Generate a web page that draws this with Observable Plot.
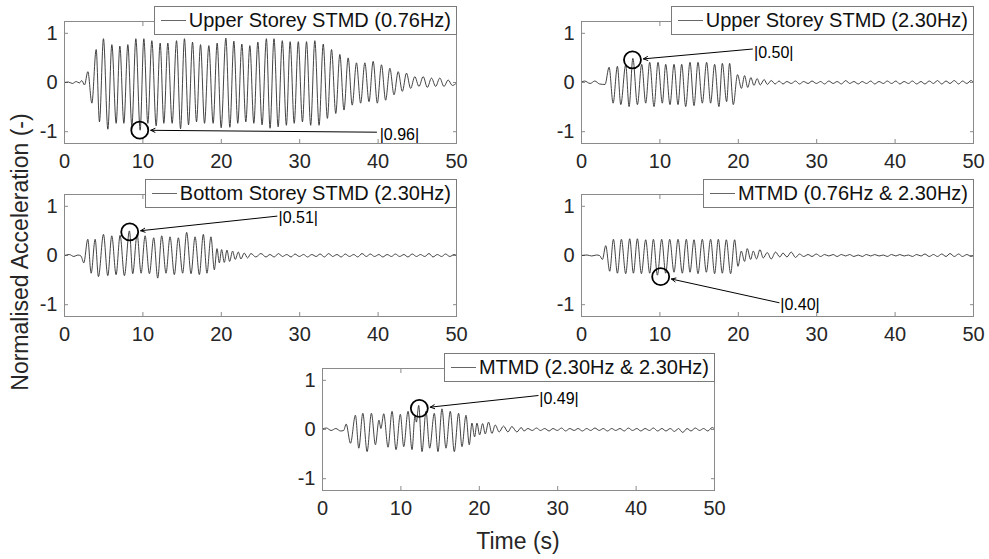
<!DOCTYPE html>
<html><head><meta charset="utf-8">
<script src="https://cdn.jsdelivr.net/npm/d3@7"></script>
<script src="https://cdn.jsdelivr.net/npm/@observablehq/plot@0.6"></script>
<style>
body{margin:0;background:#fff;overflow:hidden}
#chart{position:relative;width:989px;height:559px;font-family:"Liberation Sans",Arial,sans-serif;color:#262626;overflow:hidden;background:#fff}
.panel{position:absolute}
.legend{position:absolute;box-sizing:border-box;border:1px solid #7a7a7a;background:#fff;height:29px;display:flex;align-items:center;font-size:20px;white-space:nowrap;padding-right:5px;color:#111}
.legend .sw{display:inline-block;width:25px;height:0;border-top:1px solid #666;margin:0 3px 0 6px}
.lab{position:absolute;white-space:nowrap;font-size:23px;color:#262626}
</style></head><body><div id="chart"></div>
<script>
// ---- data ----
const xTicks = [0, 10, 20, 30, 40, 50];
const yTicks = [-1, 0, 1];
const titles = ["Upper Storey STMD (0.76Hz)", "Upper Storey STMD (2.30Hz)", "Bottom Storey STMD (2.30Hz)", "MTMD (0.76Hz & 2.30Hz)", "MTMD (2.30Hz & 2.30Hz)"];

// Panel 1: Upper Storey STMD (0.76Hz) — extrema
const t1 = [0,0.5,1.0,1.5,1.9,2.2,2.55,2.98,3.49,4.04,4.46,4.97,5.53,6.04,6.59,7.06,7.57,8.08,8.59,9.10,9.65,10.12,10.63,11.14,11.69,12.2,12.67,13.18,13.73,14.29,14.8,15.3,15.82,16.33,16.84,17.35,17.86,18.41,18.96,19.47,19.98,20.58,21.09,21.6,22.1,22.62,23.13,23.64,24.15,24.66,25.2,25.75,26.22,26.72,27.25,27.78,28.3,28.78,29.3,29.82,30.35,30.87,31.4,31.93,32.47,33.0,33.53,34.06,34.6,35.12,35.65,36.18,36.7,37.24,37.77,38.31,38.84,39.37,39.9,40.43,40.96,41.5,42.03,42.56,43.09,43.62,44.15,44.68,45.21,45.75,46.28,46.81,47.34,47.87,48.4,48.94,49.47,50];
const v1 = [0,0.01,-0.02,0.02,-0.01,0.04,-0.05,0.22,-0.42,0.67,-0.80,0.89,-0.95,0.77,-0.83,0.74,-0.83,0.77,-0.88,0.89,-0.97,0.89,-0.83,0.85,-0.88,0.80,-0.83,0.80,-0.83,0.85,-0.94,0.89,-0.86,0.82,-0.80,0.77,-0.83,0.75,-0.83,0.80,-0.92,0.90,-0.91,0.84,-0.83,0.78,-0.80,0.75,-0.83,0.82,-0.86,0.89,-0.93,0.89,-0.90,0.85,-0.87,0.83,-0.83,0.83,-0.80,0.83,-0.87,0.85,-0.87,0.78,-0.73,0.67,-0.63,0.57,-0.56,0.50,-0.46,0.40,-0.42,0.40,-0.39,0.43,-0.42,0.36,-0.36,0.29,-0.25,0.22,-0.18,0.19,-0.12,0.12,-0.08,0.12,-0.10,0.09,-0.08,0.09,-0.08,0.05,-0.06,-0.01];

// Shared tail times (residual wiggles after 25 s) for panels 2-5
const tailT = [25.7,26.2,26.75,27.3,27.8,28.35,28.9,29.4,29.95,30.5,31.0,31.55,32.1,32.6,33.15,33.7,34.2,34.75,35.3,35.8,36.35,36.9,37.4,37.95,38.5,39.0,39.55,40.1,40.6,41.15,41.7,42.2,42.75,43.3,43.8,44.35,44.9,45.4,45.95,46.5,47.0,47.55,48.1,48.6,49.15,49.7,50];

// Panel 2: Upper Storey STMD (2.30Hz)
const t2 = [0,0.4,1.1,1.7,2.3,3.0,3.52,4.03,4.58,5.01,5.64,6.07,6.55,7.13,7.68,8.19,8.70,9.25,9.76,10.31,10.74,11.29,11.80,12.31,12.78,13.29,13.84,14.35,14.86,15.41,15.96,16.47,16.98,17.53,17.96,18.51,18.89,19.36,19.9,20.4,20.8,21.2,21.6,22.0,22.4,22.8,23.3,23.7,24.2,24.7,25.2];
const v2 = [0.01,0.03,-0.02,0.03,-0.03,-0.04,0.31,-0.42,0.33,-0.45,0.36,-0.49,0.49,-0.45,0.37,-0.42,0.41,-0.49,0.41,-0.42,0.37,-0.45,0.37,-0.45,0.37,-0.49,0.41,-0.47,0.41,-0.42,0.41,-0.42,0.37,-0.49,0.39,-0.39,0.39,-0.45,0.16,-0.12,0.14,-0.10,0.10,-0.06,0.08,-0.05,0.06,-0.04,0.04,-0.03,0.03];
const tail2 = [-0.03,0.02,-0.02,0.03,-0.03,0.02,-0.02,0.03,-0.02,0.02,-0.03,0.03,-0.02,0.02,-0.03,0.04,-0.02,0.02,-0.03,0.02,-0.02,0.03,-0.03,0.02,-0.02,0.03,-0.02,0.03,-0.03,0.02,-0.02,0.03,-0.03,0.02,-0.03,0.03,-0.02,0.04,-0.03,0.03,-0.02,0.04,-0.03,0.03,-0.02,0.04,0.0];

// Panel 3: Bottom Storey STMD (2.30Hz)
const t3 = [0,0.6,1.2,1.7,2.1,2.46,2.97,3.40,3.91,4.33,4.97,5.52,6.03,6.58,7.09,7.64,8.28,8.70,9.26,9.77,10.28,10.83,11.38,11.89,12.40,12.95,13.46,14.01,14.52,15.07,15.58,16.14,16.65,17.20,17.71,18.17,18.68,19.11,19.45,19.75,20.04,20.38,20.72,21.06,21.44,21.78,22.17,22.5,22.93,23.35,23.78,24.4,25.05];
const v3 = [0,0.02,-0.02,0.01,-0.01,-0.15,0.33,-0.36,0.33,-0.43,0.43,-0.41,0.40,-0.39,0.41,-0.41,0.50,-0.37,0.43,-0.36,0.40,-0.37,0.36,-0.46,0.40,-0.36,0.38,-0.39,0.36,-0.36,0.47,-0.37,0.38,-0.39,0.43,-0.36,0.38,-0.29,0.14,-0.15,0.12,-0.14,0.11,-0.12,0.09,-0.08,0.07,-0.07,0.05,-0.05,0.04,-0.03,0.04];
const tail3 = [-0.03,0.02,-0.03,0.04,-0.02,0.02,-0.03,0.03,-0.02,0.02,-0.03,0.02,-0.02,0.03,-0.03,0.04,-0.02,0.02,-0.03,0.03,-0.02,0.02,-0.03,0.04,-0.02,0.03,-0.02,0.02,-0.03,0.02,-0.02,0.03,-0.02,0.02,-0.03,0.03,-0.02,0.02,-0.02,0.04,-0.03,0.02,-0.02,0.03,-0.02,0.02,0.0];

// Panel 4: MTMD (0.76Hz & 2.30Hz)
const t4 = [0,0.7,1.3,1.9,2.3,2.67,3.09,3.60,4.07,4.58,5.09,5.64,6.15,6.62,7.13,7.64,8.19,8.70,9.17,9.68,10.23,10.74,11.25,11.80,12.31,12.86,13.37,13.84,14.35,14.86,15.41,15.92,16.47,16.98,17.45,17.96,18.47,19.02,19.53,19.96,20.38,20.8,21.14,21.57,21.91,22.33,22.76,23.18,23.69,24.2,24.75,25.3];
const v4 = [0,0.01,-0.01,0.01,0,-0.08,0.20,-0.32,0.33,-0.36,0.33,-0.37,0.34,-0.36,0.34,-0.37,0.32,-0.36,0.33,-0.40,0.33,-0.36,0.33,-0.34,0.33,-0.36,0.33,-0.34,0.32,-0.37,0.33,-0.34,0.33,-0.37,0.33,-0.36,0.32,-0.37,0.32,-0.22,0.09,-0.12,0.14,-0.08,0.09,-0.07,0.12,-0.05,0.06,-0.07,0.07,-0.03];
const tail4 = [0.05,-0.03,0.07,-0.04,0.03,-0.02,0.02,-0.02,0.03,-0.02,0.02,-0.01,0.02,-0.02,0.02,-0.01,0.02,-0.02,0.01,-0.02,0.02,-0.01,0.02,-0.01,0.01,-0.02,0.02,-0.01,0.02,-0.01,0.01,-0.02,0.02,-0.01,0.03,-0.02,0.02,-0.02,0.03,-0.02,0.04,-0.02,0.03,-0.02,0.02,-0.02,0.0];

// Panel 5: MTMD (2.30Hz & 2.30Hz)
const t5 = [0,0.5,1.1,1.7,2.3,2.7,3.02,3.57,4.2,4.63,5.14,5.69,6.24,6.75,7.2,7.45,7.81,8.36,8.87,9.38,9.93,10.36,10.91,11.42,11.8,11.98,12.27,12.69,13.2,13.67,14.26,14.73,15.24,15.75,16.3,16.81,17.36,17.79,18.3,18.72,19.06,19.4,19.7,20.04,20.42,20.76,21.18,21.61,22.03,22.54,23.09,23.65,24.15,24.79,25.35];
const v5 = [0.01,0.03,-0.02,0.02,-0.03,-0.02,0.11,-0.28,0.29,-0.38,0.33,-0.45,0.33,-0.31,0.19,0.02,0.32,-0.36,0.37,-0.41,0.31,-0.35,0.37,-0.41,0.29,0.15,0.49,-0.45,0.37,-0.38,0.33,-0.45,0.42,-0.38,0.37,-0.45,0.33,-0.35,0.29,-0.31,0.13,-0.15,0.13,-0.11,0.12,-0.09,0.15,-0.08,0.09,-0.05,0.07,-0.05,0.06,-0.05,0.04];
const tail5 = [-0.03,0.02,-0.02,0.03,-0.02,0.02,-0.03,0.02,-0.02,0.03,-0.03,0.02,-0.02,0.02,-0.03,0.02,-0.02,0.03,-0.02,0.02,-0.03,0.02,-0.02,0.02,-0.03,0.03,-0.02,0.02,-0.03,0.02,-0.02,0.03,-0.03,0.02,-0.03,0.02,-0.04,0.02,-0.06,0.02,-0.03,0.03,-0.02,0.02,-0.03,0.04,0.01];

// Annotations: circled peak (time, value), arrow tail and label position, label text
const annPeakT = [9.6, 6.5, 8.32, 10.1, 12.35];
const annPeakV = [-0.97, 0.46, 0.48, -0.43, 0.43];
const annTailT = [39.8, 21.8, 27.1, 25.2, 27.5];
const annTailV = [-1.01, 0.68, 0.80, -0.96, 0.69];
const annTextT = [40.2, 22.0, 27.3, 25.35, 27.65];
const annTextV = [-1.06, 0.60, 0.755, -1.01, 0.63];
const annLabels = ["|0.96|", "|0.50|", "|0.51|", "|0.40|", "|0.49|"];

// ---- layout ----
const FW = 392, FH = 122, ML = 50, MR = 12, MT = 10, MB = 34;
const frames = [[64, 21], [581, 21], [64, 194], [581, 194], [322, 368]];
const series = [
  [t1, v1],
  [t2.concat(tailT), v2.concat(tail2)],
  [t3.concat(tailT), v3.concat(tail3)],
  [t4.concat(tailT), v4.concat(tail4)],
  [t5.concat(tailT), v5.concat(tail5)]
];

const chart = document.getElementById("chart");
const axisColor = "#8a8a8a";
const noLabel = () => "";

series.forEach(([ts, vs], i) => {
  const n = Math.min(ts.length, vs.length);
  const data = d3.range(n).map(k => ({t: ts[k], v: vs[k]}));
  const ann = [{pt: annPeakT[i], pv: annPeakV[i], lt: annTailT[i], lv: annTailV[i], tt: annTextT[i], tv: annTextV[i], label: annLabels[i]}];
  const svg = Plot.plot({
    width: FW + ML + MR, height: FH + MT + MB,
    marginLeft: ML, marginRight: MR, marginTop: MT, marginBottom: MB,
    style: {fontFamily: '"Liberation Sans", Arial, sans-serif', fontSize: "20px", color: "#262626", background: "transparent", overflow: "visible"},
    x: {domain: [0, 50]},
    y: {domain: [-1.24, 1.24]},
    marks: [
      Plot.axisX({ticks: xTicks, anchor: "bottom", tickSize: -4, tickPadding: 14, stroke: axisColor, fill: "#262626", tickFormat: d => String(d), label: null}),
      Plot.axisX({ticks: xTicks, anchor: "top", tickSize: -4, stroke: axisColor, fill: "none", tickFormat: noLabel, label: null}),
      Plot.axisY({ticks: yTicks, anchor: "left", tickSize: -4, tickPadding: 11, stroke: axisColor, fill: "#262626", tickFormat: d => String(d), label: null}),
      Plot.axisY({ticks: yTicks, anchor: "right", tickSize: -4, stroke: axisColor, fill: "none", tickFormat: noLabel, label: null}),
      Plot.line(data, {x: "t", y: "v", curve: "monotone-x", stroke: "#2e2e2e", strokeWidth: 0.9}),
      Plot.frame({stroke: axisColor}),
      Plot.dot(ann, {x: "pt", y: "pv", r: 8.5, stroke: "#000", fill: "none", strokeWidth: 1.8}),
      Plot.arrow(ann, {x1: "lt", y1: "lv", x2: "pt", y2: "pv", insetEnd: 11, headLength: 7, headAngle: 50, stroke: "#000", strokeWidth: 1}),
      Plot.text(ann, {x: "tt", y: "tv", text: "label", textAnchor: "start", fontSize: 16, fill: "#000"})
    ]
  });
  const [fx, fy] = frames[i];
  svg.classList.add("panel");
  svg.style.left = (fx - ML) + "px";
  svg.style.top = (fy - MT) + "px";
  chart.appendChild(svg);

  const lg = document.createElement("div");
  lg.className = "legend";
  lg.style.right = (989 - (fx + FW + 1)) + "px";
  lg.style.top = (fy - 15) + "px";
  const sw = document.createElement("span"); sw.className = "sw";
  const tx = document.createElement("span"); tx.textContent = titles[i];
  lg.appendChild(sw); lg.appendChild(tx);
  chart.appendChild(lg);
});

const yl = document.createElement("div");
yl.className = "lab";
yl.textContent = "Normalised Acceleration (-)";
yl.style.left = "20px"; yl.style.top = "252px";
yl.style.transform = "translate(-50%,-50%) rotate(-90deg)";
chart.appendChild(yl);

const xl = document.createElement("div");
xl.className = "lab";
xl.textContent = "Time (s)";
xl.style.left = "518px"; xl.style.top = "541px";
xl.style.transform = "translate(-50%,-50%)";
chart.appendChild(xl);
</script></body></html>
